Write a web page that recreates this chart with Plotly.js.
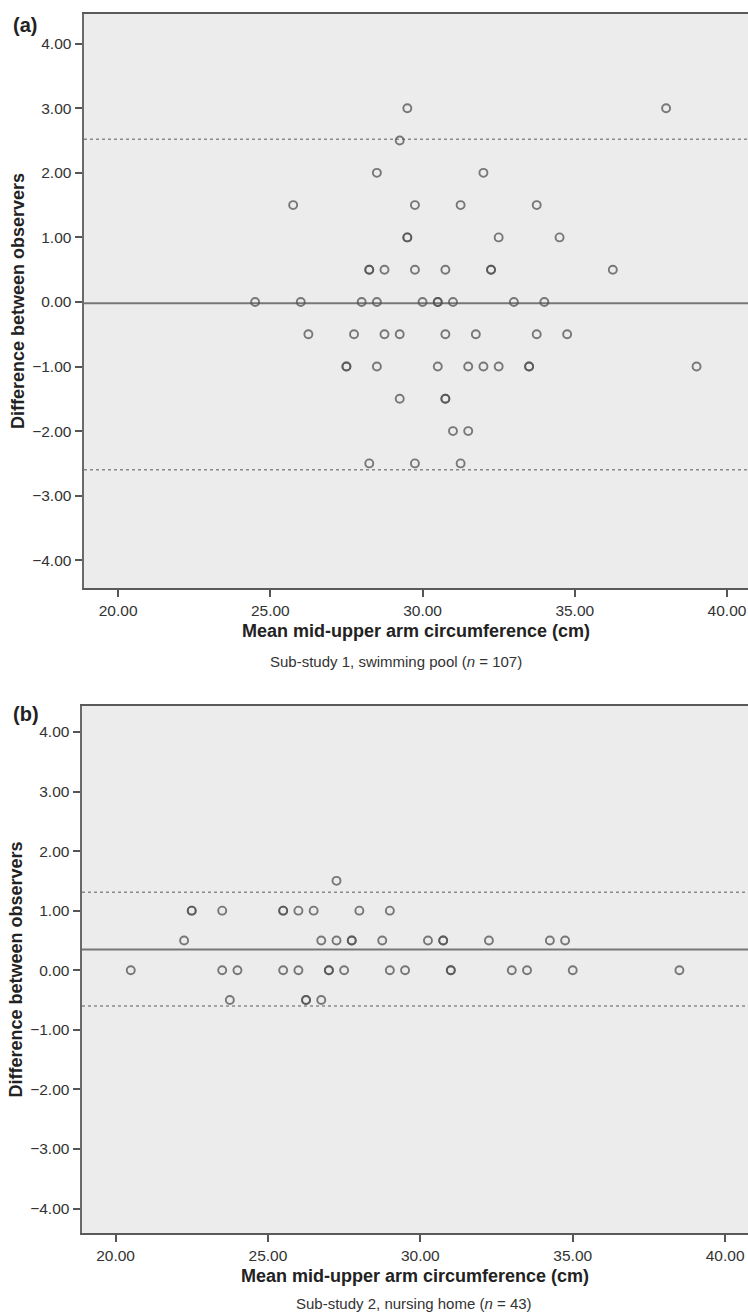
<!DOCTYPE html>
<html>
<head>
<meta charset="utf-8">
<script src="https://cdn.plot.ly/plotly-3.0.1.min.js"></script>
<style>html,body{margin:0;padding:0;background:#fff}#chart{width:748px;height:1312px}</style>
</head>
<body>
<div id="chart"></div>
<script>
// Panel (a): sub-study 1, swimming pool
const aX = [29.5, 38.0,
  29.25,
  28.5, 32.0,
  25.75, 29.75, 31.25, 33.75,
  29.5, 29.5, 32.5, 34.5,
  28.25, 28.25, 28.75, 29.75, 30.75, 32.25, 32.25, 36.25,
  24.5, 26.0, 28.0, 28.5, 30.0, 30.5, 30.5, 31.0, 33.0, 34.0,
  26.25, 27.75, 28.75, 29.25, 30.75, 31.75, 33.75, 34.75,
  27.5, 27.5, 28.5, 30.5, 31.5, 32.0, 32.5, 33.5, 33.5, 39.0,
  29.25, 30.75, 30.75,
  31.0, 31.5,
  28.25, 29.75, 31.25];
const aY = [3, 3,
  2.5,
  2, 2,
  1.5, 1.5, 1.5, 1.5,
  1, 1, 1, 1,
  0.5, 0.5, 0.5, 0.5, 0.5, 0.5, 0.5, 0.5,
  0, 0, 0, 0, 0, 0, 0, 0, 0, 0,
  -0.5, -0.5, -0.5, -0.5, -0.5, -0.5, -0.5, -0.5,
  -1, -1, -1, -1, -1, -1, -1, -1, -1, -1,
  -1.5, -1.5, -1.5,
  -2, -2,
  -2.5, -2.5, -2.5];
const aLines = {mean: -0.02, upper: 2.52, lower: -2.60};

// Panel (b): sub-study 2, nursing home
const bX = [27.25,
  22.5, 22.5, 23.5, 25.5, 25.5, 26.0, 26.5, 28.0, 29.0,
  22.25, 26.75, 27.25, 27.75, 27.75, 28.75, 30.25, 30.75, 30.75, 32.25, 34.25, 34.75,
  20.5, 23.5, 24.0, 25.5, 26.0, 27.0, 27.0, 27.5, 29.0, 29.5, 31.0, 31.0, 33.0, 33.5, 35.0, 38.5,
  23.75, 26.25, 26.25, 26.75];
const bY = [1.5,
  1, 1, 1, 1, 1, 1, 1, 1, 1,
  0.5, 0.5, 0.5, 0.5, 0.5, 0.5, 0.5, 0.5, 0.5, 0.5, 0.5, 0.5,
  0, 0, 0, 0, 0, 0, 0, 0, 0, 0, 0, 0, 0, 0, 0, 0,
  -0.5, -0.5, -0.5, -0.5];
const bLines = {mean: 0.35, upper: 1.31, lower: -0.60};

const xTicks = [20, 25, 30, 35, 40];
const yTicks = [-4, -3, -2, -1, 0, 1, 2, 3, 4];
const xTitle = 'Mean mid-upper arm circumference (cm)';
const yTitle = 'Difference between observers';
const captions = ['Sub-study 1, swimming pool (<i>n</i> = 107)', 'Sub-study 2, nursing home (<i>n</i> = 43)'];
const panelLabels = ['(a)', '(b)'];

const FONT = 'Liberation Sans, Arial, Helvetica, sans-serif';
const W = 748, H = 1312;

const marker = {symbol: 'circle-open', size: 8, color: 'rgba(80,80,80,0.75)', line: {width: 1.9, color: 'rgba(80,80,80,0.75)'}};

const traces = [
  {x: aX, y: aY, type: 'scatter', mode: 'markers', xaxis: 'x', yaxis: 'y', marker: marker, hoverinfo: 'x+y'},
  {x: bX, y: bY, type: 'scatter', mode: 'markers', xaxis: 'x2', yaxis: 'y2', marker: marker, hoverinfo: 'x+y'}
];

function xax(domain, range) {
  return {
    domain: domain, range: range, tickvals: xTicks, tickformat: '.2f',
    ticks: 'outside', ticklen: 7, tickwidth: 2, tickcolor: '#555',
    showline: true, linecolor: '#5a5a5a', linewidth: 2, mirror: true,
    showgrid: false, zeroline: false, automargin: false,
    tickfont: {family: FONT, size: 15.5, color: '#333'},
    title: {text: xTitle, font: {family: FONT, size: 18, color: '#222', weight: 'bold'}, standoff: 7}
  };
}
function yax(domain, range, anchor) {
  return {
    domain: domain, range: range, tickvals: yTicks, tickformat: '.2f', anchor: anchor,
    ticks: 'outside', ticklen: 7, tickwidth: 2, tickcolor: '#555',
    showline: true, linecolor: '#6a6a6a', linewidth: 2.5, mirror: false,
    showgrid: false, zeroline: false, automargin: false,
    tickfont: {family: FONT, size: 15.5, color: '#333'},
    title: {text: yTitle, font: {family: FONT, size: 18, color: '#222', weight: 'bold'}, standoff: 3}
  };
}

function refShapes(lines, xref, yref) {
  const base = {type: 'line', xref: xref + ' domain', yref: yref, x0: 0, x1: 1, layer: 'below'};
  return [
    Object.assign({}, base, {y0: lines.upper, y1: lines.upper, line: {color: '#8a8a8a', width: 1.5, dash: 'dot'}}),
    Object.assign({}, base, {y0: lines.lower, y1: lines.lower, line: {color: '#8a8a8a', width: 1.5, dash: 'dot'}}),
    Object.assign({}, base, {y0: lines.mean, y1: lines.mean, line: {color: '#777', width: 2}})
  ];
}

const layout = {
  width: W, height: H,
  margin: {l: 0, r: 0, t: 0, b: 0},
  paper_bgcolor: '#ffffff', plot_bgcolor: '#ececec',
  showlegend: false,
  xaxis: xax([84 / W, 1], [18.88, 40.69]),
  yaxis: yax([1 - 588 / H, 1 - 14 / H], [-4.43, 4.46], 'x'),
  xaxis2: Object.assign(xax([82 / W, 1], [18.90, 40.75]), {anchor: 'y2'}),
  yaxis2: yax([1 - 1233 / H, 1 - 706 / H], [-4.41, 4.435], 'x2'),
  shapes: refShapes(aLines, 'x', 'y').concat(refShapes(bLines, 'x2', 'y2')),
  annotations: [
    {text: panelLabels[0], xref: 'paper', yref: 'paper', x: 11 / W, y: 1 - 25 / H, xanchor: 'left', yanchor: 'middle', showarrow: false, font: {family: FONT, size: 20, color: '#222', weight: 'bold'}},
    {text: panelLabels[1], xref: 'paper', yref: 'paper', x: 11 / W, y: 1 - 714 / H, xanchor: 'left', yanchor: 'middle', showarrow: false, font: {family: FONT, size: 20, color: '#222', weight: 'bold'}},
    {text: captions[0], xref: 'paper', yref: 'paper', x: 396 / W, y: 1 - 662 / H, xanchor: 'center', yanchor: 'middle', showarrow: false, font: {family: FONT, size: 15, color: '#333'}},
    {text: captions[1], xref: 'paper', yref: 'paper', x: 414 / W, y: 1 - 1303 / H, xanchor: 'center', yanchor: 'middle', showarrow: false, font: {family: FONT, size: 15, color: '#333'}}
  ]
};

Plotly.newPlot('chart', traces, layout, {displayModeBar: false, staticPlot: true});
</script>
</body>
</html>
